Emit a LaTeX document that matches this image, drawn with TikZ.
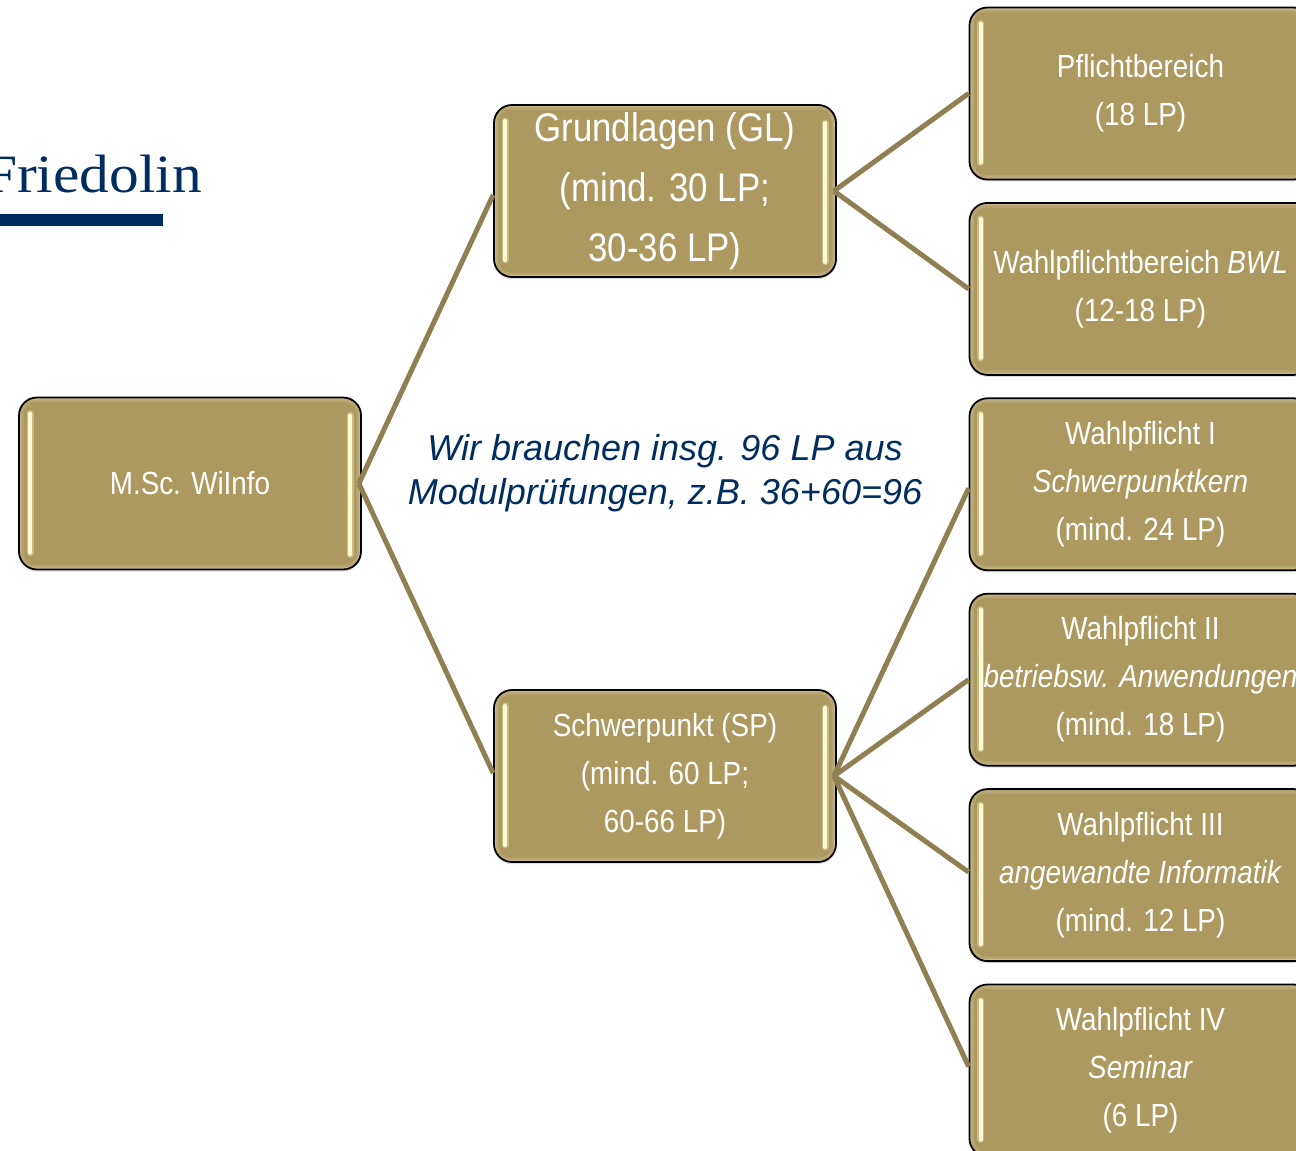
\documentclass[tikz,border=0pt]{standalone}
\usepackage{fontspec}
\setmainfont[FakeStretch=0.87]{Liberation Sans}
\newfontfamily\notefont{Liberation Sans}
\newfontfamily\logofont[FakeStretch=1.1]{Liberation Serif}
\usetikzlibrary{positioning}
\usetikzlibrary{chains}
\usetikzlibrary{shadows}
\definecolor{boxgold}{HTML}{AD9960}
\definecolor{edgegold}{HTML}{8F7F52}
\definecolor{rimgold}{HTML}{D8CCA8}
\definecolor{barcream}{HTML}{FFFAD2}
\definecolor{uninavy}{HTML}{002C5F}
\begin{document}
\begin{tikzpicture}[x=1pt,y=-1pt,
        node distance = 21.6pt,
        start chain = going below,
        box/.style = {draw=black,line width=1.8pt,rounded corners=18pt,fill=boxgold,
            drop shadow={shadow xshift=0pt,shadow yshift=-2pt,opacity=.25},
            minimum width=342pt,minimum height=172pt,inner sep=0pt,
            align=center,text=white,font=\fontsize{32}{48}\selectfont,
            path picture={
                \draw[rimgold,opacity=.25,line width=9pt,rounded corners=16pt]
                    (path picture bounding box.north west) rectangle (path picture bounding box.south east);
                \draw[rimgold,opacity=.5,line width=4pt,rounded corners=16pt]
                    (path picture bounding box.north west) rectangle (path picture bounding box.south east);
                \draw[barcream,opacity=.35,line width=7pt,line cap=round]
                    ([xshift=11pt,yshift=-16pt]path picture bounding box.north west)
                    -- ([xshift=11pt,yshift=17pt]path picture bounding box.south west);
                \draw[barcream,line width=4pt,line cap=round]
                    ([xshift=11pt,yshift=-16pt]path picture bounding box.north west)
                    -- ([xshift=11pt,yshift=17pt]path picture bounding box.south west);
                \draw[barcream,opacity=.35,line width=7pt,line cap=round]
                    ([xshift=-11pt,yshift=-18pt]path picture bounding box.north east)
                    -- ([xshift=-11pt,yshift=15pt]path picture bounding box.south east);
                \draw[barcream,line width=4pt,line cap=round]
                    ([xshift=-11pt,yshift=-18pt]path picture bounding box.north east)
                    -- ([xshift=-11pt,yshift=15pt]path picture bounding box.south east);
            }},
        leafbox/.style = {box,on chain},
        bigbox/.style = {box,font=\fontsize{40}{60}\selectfont},
        link/.style = {draw=edgegold,line width=5pt}]
        \clip (0,0) rectangle (1296,1151);
        % left side
        \node[box] (root) at (190,483.5) {M.Sc. WiInfo};
        \node[bigbox] (gl) at (665,191) {Grundlagen (GL)\\(mind. 30 LP;\\30-36 LP)};
        \node[box] (sp) at (665,776) {Schwerpunkt (SP)\\(mind. 60 LP;\\60-66 LP)};
        % right column
        \node[leafbox] (pf) at (1140.5,93.5) {Pflichtbereich\\(18 LP)};
        \node[leafbox] (wb) {Wahlpflichtbereich \textit{BWL}\\(12-18 LP)};
        \node[leafbox] (w1) {Wahlpflicht I\\\textit{Schwerpunktkern}\\(mind. 24 LP)};
        \node[leafbox] (w2) {Wahlpflicht II\\\textit{betriebsw. Anwendungen}\\(mind. 18 LP)};
        \node[leafbox] (w3) {Wahlpflicht III\\\textit{angewandte Informatik}\\(mind. 12 LP)};
        \node[leafbox] (w4) {Wahlpflicht IV\\\textit{Seminar}\\(6 LP)};
        \path[link]
            ([xshift=-3pt]root.east) edge ([yshift=-4pt]gl.west)
            ([xshift=-3pt]root.east) edge ([yshift=3pt]sp.west)
            ([xshift=-3pt]gl.east) edge (pf.west)
            ([xshift=-3pt]gl.east) edge (wb.west)
            ([xshift=-3pt]sp.east) edge ([yshift=-4pt]w1.west)
            ([xshift=-3pt]sp.east) edge (w2.west)
            ([xshift=-3pt]sp.east) edge ([yshift=3pt]w3.west)
            ([xshift=-3pt]sp.east) edge ([yshift=4pt]w4.west);
        \node[text=uninavy,align=center,font=\notefont\itshape\fontsize{36}{44}\selectfont] (note) at (665,473)
            {Wir brauchen insg. 96 LP aus\\Modulprüfungen, z.B. 36+60=96};
        % logo
        \node[anchor=base east,inner sep=0pt,text=uninavy,font=\logofont\fontsize{54}{60}\selectfont] (logo) at (202,192) {Friedolin};
        \node[anchor=north west,fill=uninavy,inner sep=0pt,minimum width=163pt,minimum height=12pt] (logobar) at (0,214) {};
    \end{tikzpicture}
\end{document}
